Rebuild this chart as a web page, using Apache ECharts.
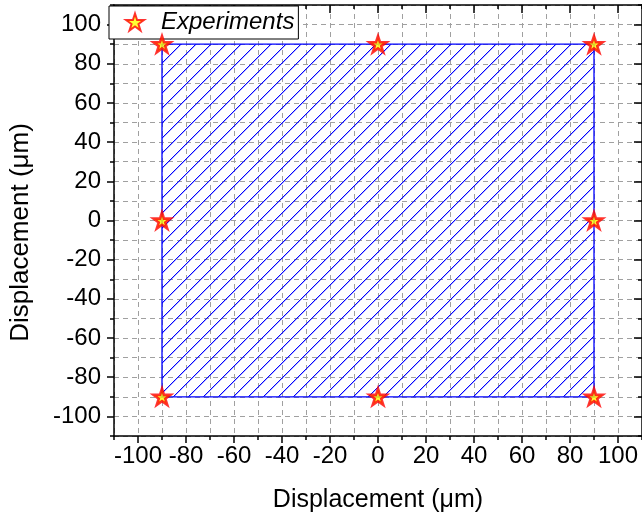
<!DOCTYPE html>
<html>
<head>
<meta charset="utf-8">
<script src="https://cdn.jsdelivr.net/npm/echarts@6/dist/echarts.min.js"></script>
<style>
html,body{margin:0;padding:0;background:#fff;}
#chart{width:642px;height:518px;}
</style>
</head>
<body>
<div id="chart"></div>
<script>
// ---- data ----
const seriesName = 'Experiments';
const pointsX = [-90, 0, 90, -90, 90, -90, 0, 90];
const pointsY = [90, 90, 90, 0, 0, -90, -90, -90];
const regionX = [-90, 90];
const regionY = [-90, 90];
const xTickLabels = [-100, -80, -60, -40, -20, 0, 20, 40, 60, 80, 100];
const yTickLabels = [-100, -80, -60, -40, -20, 0, 20, 40, 60, 80, 100];
const axisMin = -110, axisMax = 110, axisStep = 10;
const xTitle = 'Displacement (\u03bcm)';
const yTitle = 'Displacement (\u03bcm)';

// ---- hatch pattern (pixel staircase diagonal lines, "/" direction) ----
function makeHatch() {
  const S = 15;
  const c = document.createElement('canvas');
  c.width = S; c.height = S;
  const g = c.getContext('2d');
  for (let x = 0; x < S; x++) {
    const y = ((S - 1 - x) % S + S) % S;
    g.fillStyle = '#0000ff';
    g.fillRect(x, y, 1, 1);
    g.fillStyle = 'rgba(0,0,255,0.3)';
    g.fillRect(x, (y + 1) % S, 1, 1);
  }
  return c;
}
const hatch = {image: makeHatch(), repeat: 'repeat'};

const FONT = '"Liberation Sans", Arial, sans-serif';
const starPath = 'path://M50,0 L61.2,34.5 L97.6,34.5 L68.2,55.9 L79.4,90.5 L50,69.1 L20.6,90.5 L31.8,55.9 L2.4,34.5 L38.8,34.5 Z';

const pts = pointsX.map((x, i) => [x, pointsY[i]]);

function baseAxis(extra) {
  return Object.assign({
    type: 'value', min: axisMin, max: axisMax, interval: axisStep,
    axisLine: {show: false, onZero: false},
    axisTick: {show: false},
    axisLabel: {show: false},
    splitLine: {show: false}
  }, extra);
}
const lineBlack = {show: true, onZero: false, lineStyle: {color: '#000', width: 1.5}};
const gridDash = {show: true, lineStyle: {color: '#a0a0a0', type: [5, 4], width: 1}};

const option = {
  animation: false,
  backgroundColor: '#fff',
  grid: {left: 109, top: 5, width: 533, height: 431, containLabel: false},
  legend: {
    show: true,
    left: 109, top: 6,
    orient: 'horizontal',
    data: [seriesName],
    backgroundColor: '#fff',
    borderColor: '#000', borderWidth: 1,
    padding: [4, 4, 5, 16],
    itemWidth: 18, itemHeight: 18,
    textStyle: {fontFamily: FONT, fontSize: 24, fontStyle: 'italic', color: '#000', padding: [0, 0, 0, 12]}
  },
  xAxis: [
    baseAxis({position: 'bottom', axisLine: lineBlack,
      axisTick: {show: true, inside: false, length: 4, lineStyle: {color: '#000', width: 1.5}},
      axisLabel: {show: true, customValues: xTickLabels, fontFamily: FONT, fontSize: 24, color: '#000', margin: 8},
      splitLine: gridDash,
      name: xTitle, nameLocation: 'middle', nameGap: 52,
      nameTextStyle: {fontFamily: FONT, fontSize: 25, color: '#000'}}),
    baseAxis({position: 'bottom',
      axisTick: {show: true, inside: false, length: 7, customValues: xTickLabels, lineStyle: {color: '#000', width: 1.5}}}),
    baseAxis({position: 'top', axisLine: lineBlack,
      axisTick: {show: true, inside: true, length: 4, lineStyle: {color: '#000', width: 1.5}}}),
    baseAxis({position: 'top',
      axisTick: {show: true, inside: true, length: 8, customValues: xTickLabels, lineStyle: {color: '#000', width: 1.5}}})
  ],
  yAxis: [
    baseAxis({position: 'left', axisLine: lineBlack,
      axisTick: {show: true, inside: false, length: 4, lineStyle: {color: '#000', width: 1.5}},
      axisLabel: {show: true, customValues: yTickLabels, fontFamily: FONT, fontSize: 24, color: '#000', margin: 13},
      splitLine: gridDash,
      name: yTitle, nameLocation: 'middle', nameGap: 80,
      nameTextStyle: {fontFamily: FONT, fontSize: 26, color: '#000', padding: [0, 24, 0, 0]}}),
    baseAxis({position: 'left',
      axisTick: {show: true, inside: false, length: 7, customValues: yTickLabels, lineStyle: {color: '#000', width: 1.5}}}),
    baseAxis({position: 'right', axisLine: lineBlack,
      axisTick: {show: true, inside: true, length: 4, lineStyle: {color: '#000', width: 1.5}}}),
    baseAxis({position: 'right',
      axisTick: {show: true, inside: true, length: 8, customValues: yTickLabels, lineStyle: {color: '#000', width: 1.5}}})
  ],
  series: [
    {
      type: 'custom',
      name: 'region',
      xAxisIndex: 0, yAxisIndex: 0,
      data: [[regionX[0], regionY[0], regionX[1], regionY[1]]],
      renderItem: function (params, api) {
        const p0 = api.coord([api.value(0), api.value(3)]);
        const p1 = api.coord([api.value(2), api.value(1)]);
        return {
          type: 'rect',
          shape: {x: p0[0], y: p0[1], width: p1[0] - p0[0], height: p1[1] - p0[1]},
          style: {fill: hatch, stroke: '#0000ff', lineWidth: 1.3}
        };
      },
      z: 2,
      silent: true
    },
    {
      type: 'scatter',
      name: seriesName,
      xAxisIndex: 0, yAxisIndex: 0,
      data: pts,
      symbol: starPath,
      symbolKeepAspect: true,
      symbolSize: 17,
      itemStyle: {color: '#ffff00', borderColor: '#ff0000', borderWidth: 2.6},
      z: 5
    }
  ]
};
const chart = echarts.init(document.getElementById('chart'), null, {renderer: 'canvas'});
chart.setOption(option);
</script>
</body>
</html>
